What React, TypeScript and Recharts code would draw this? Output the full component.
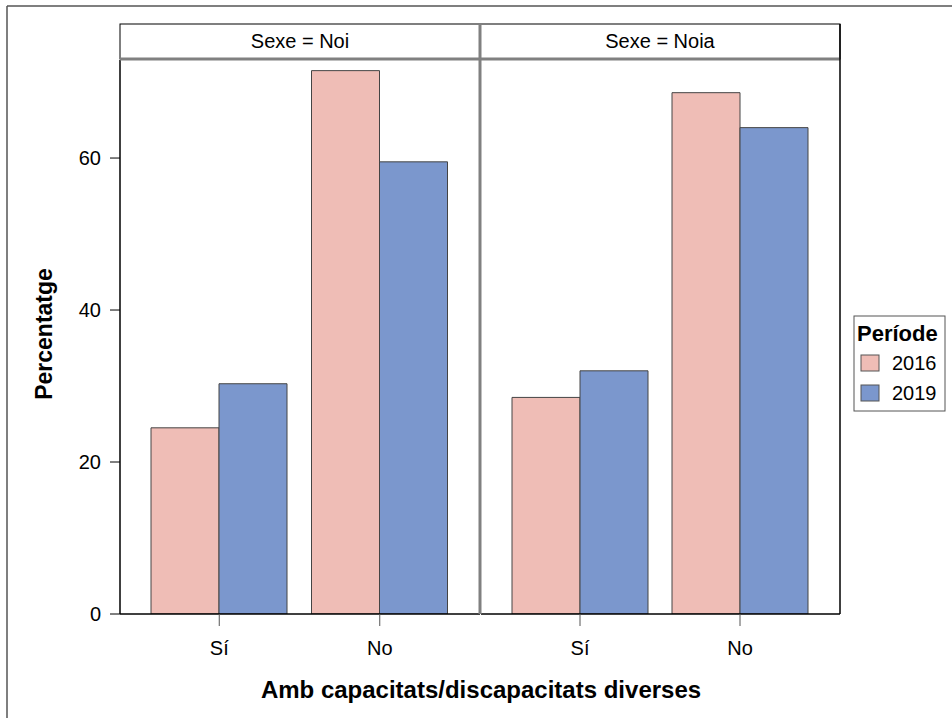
import React from 'react';
import { BarChart, Bar, XAxis, YAxis } from 'recharts';

// categories and series
const categories = ['Sí', 'No'];
const panels = ['Noi', 'Noia'];
const periods = ['2016', '2019'];
const noi2016 = [24.5, 71.5];
const noi2019 = [30.3, 59.5];
const noia2016 = [28.5, 68.6];
const noia2019 = [32.0, 64.0];
const yTicks = [0, 20, 40, 60];

const colors = ['#EFBDB6', '#7B97CD'];
const FONT = '"Liberation Sans", Arial, sans-serif';

const buildRows = (a: number[], b: number[]) =>
  categories.map((cat, i) => ({ cat, p2016: a[i], p2019: b[i] }));

const panelData = [buildRows(noi2016, noi2019), buildRows(noia2016, noia2019)];

const PLOT_TOP = 60;
const PLOT_BOTTOM = 614;
const H = 718;

const PanelChart: React.FC<{ data: any[]; withY: boolean; width: number; left: number }> = ({ data, withY, width, left }) => (
  <div style={{ position: 'absolute', left, top: 0 }}>
    <BarChart
      width={width}
      height={H}
      data={data}
      margin={{ top: PLOT_TOP, right: 0, left: withY ? 60 : 0, bottom: H - PLOT_BOTTOM - 50 }}
      barCategoryGap={12}
      barGap={0}
    >
      <XAxis
        dataKey="cat"
        height={50}
        padding={{ left: 19, right: 20 }}
        axisLine={{ stroke: '#000', strokeWidth: 1.5 }}
        tickLine={{ stroke: '#555' }}
        tickSize={12}
        tick={{ fill: '#000', fontSize: 20, fontFamily: FONT }}
        tickMargin={15}
      />
      <YAxis
        hide={!withY}
        width={60}
        domain={[0, 72.9]}
        ticks={yTicks}
        allowDataOverflow
        axisLine={{ stroke: '#000', strokeWidth: 1.5 }}
        tickLine={{ stroke: '#000' }}
        tickSize={10}
        tick={{ fill: '#000', fontSize: 20, fontFamily: FONT }}
        tickMargin={9}
      />
      <Bar dataKey="p2016" fill={colors[0]} stroke="#444" strokeWidth={1} isAnimationActive={false} />
      <Bar dataKey="p2019" fill={colors[1]} stroke="#444" strokeWidth={1} isAnimationActive={false} />
    </BarChart>
  </div>
);

export default function App() {
  return (
    <div style={{ position: 'absolute', left: 0, top: 0, width: 952, height: H, background: '#fff', overflow: 'hidden' }}>
      <PanelChart data={panelData[0]} withY width={480} left={0} />
      <PanelChart data={panelData[1]} withY={false} width={359} left={481} />
      <svg width={952} height={H} style={{ position: 'absolute', left: 0, top: 0, pointerEvents: 'none' }}>
        {/* outer frame */}
        <line x1={7} y1={6} x2={952} y2={6} stroke="#555" strokeWidth={1.5} />
        <line x1={7} y1={6} x2={7} y2={718} stroke="#555" strokeWidth={1.5} />
        {/* header strip */}
        <rect x={120} y={24} width={720} height={35} fill="none" stroke="#000" strokeWidth={1} />
        <line x1={120} y1={59} x2={840} y2={59} stroke="#808080" strokeWidth={3} />
        <line x1={480} y1={24} x2={480} y2={PLOT_BOTTOM} stroke="#808080" strokeWidth={3} />
        <line x1={840} y1={24} x2={840} y2={PLOT_BOTTOM} stroke="#000" strokeWidth={1.5} />
        {panels.map((p, i) => (
          <text key={p} x={i === 0 ? 300 : 660} y={48} textAnchor="middle" fontSize={20} fontFamily={FONT} fill="#000">
            {`Sexe = ${p}`}
          </text>
        ))}
        {/* axis titles */}
        <text x={481} y={698} textAnchor="middle" fontSize={24} fontWeight="bold" fontFamily={FONT} fill="#000">
          Amb capacitats/discapacitats diverses
        </text>
        <text
          x={0}
          y={0}
          transform="translate(52,334) rotate(-90)"
          textAnchor="middle"
          fontSize={23}
          fontWeight="bold"
          fontFamily={FONT}
          fill="#000"
        >
          Percentatge
        </text>
        {/* legend */}
        <rect x={854} y={316} width={91} height={95} fill="#fff" stroke="#555" strokeWidth={1} />
        <text x={857} y={341} fontSize={22} fontWeight="bold" fontFamily={FONT} fill="#000">
          Període
        </text>
        {periods.map((p, i) => (
          <g key={p}>
            <rect x={861} y={355 + i * 30} width={18} height={16} fill={colors[i]} stroke="#555" strokeWidth={1} />
            <text x={892} y={370 + i * 30} fontSize={20} fontFamily={FONT} fill="#000">
              {p}
            </text>
          </g>
        ))}
      </svg>
    </div>
  );
}
